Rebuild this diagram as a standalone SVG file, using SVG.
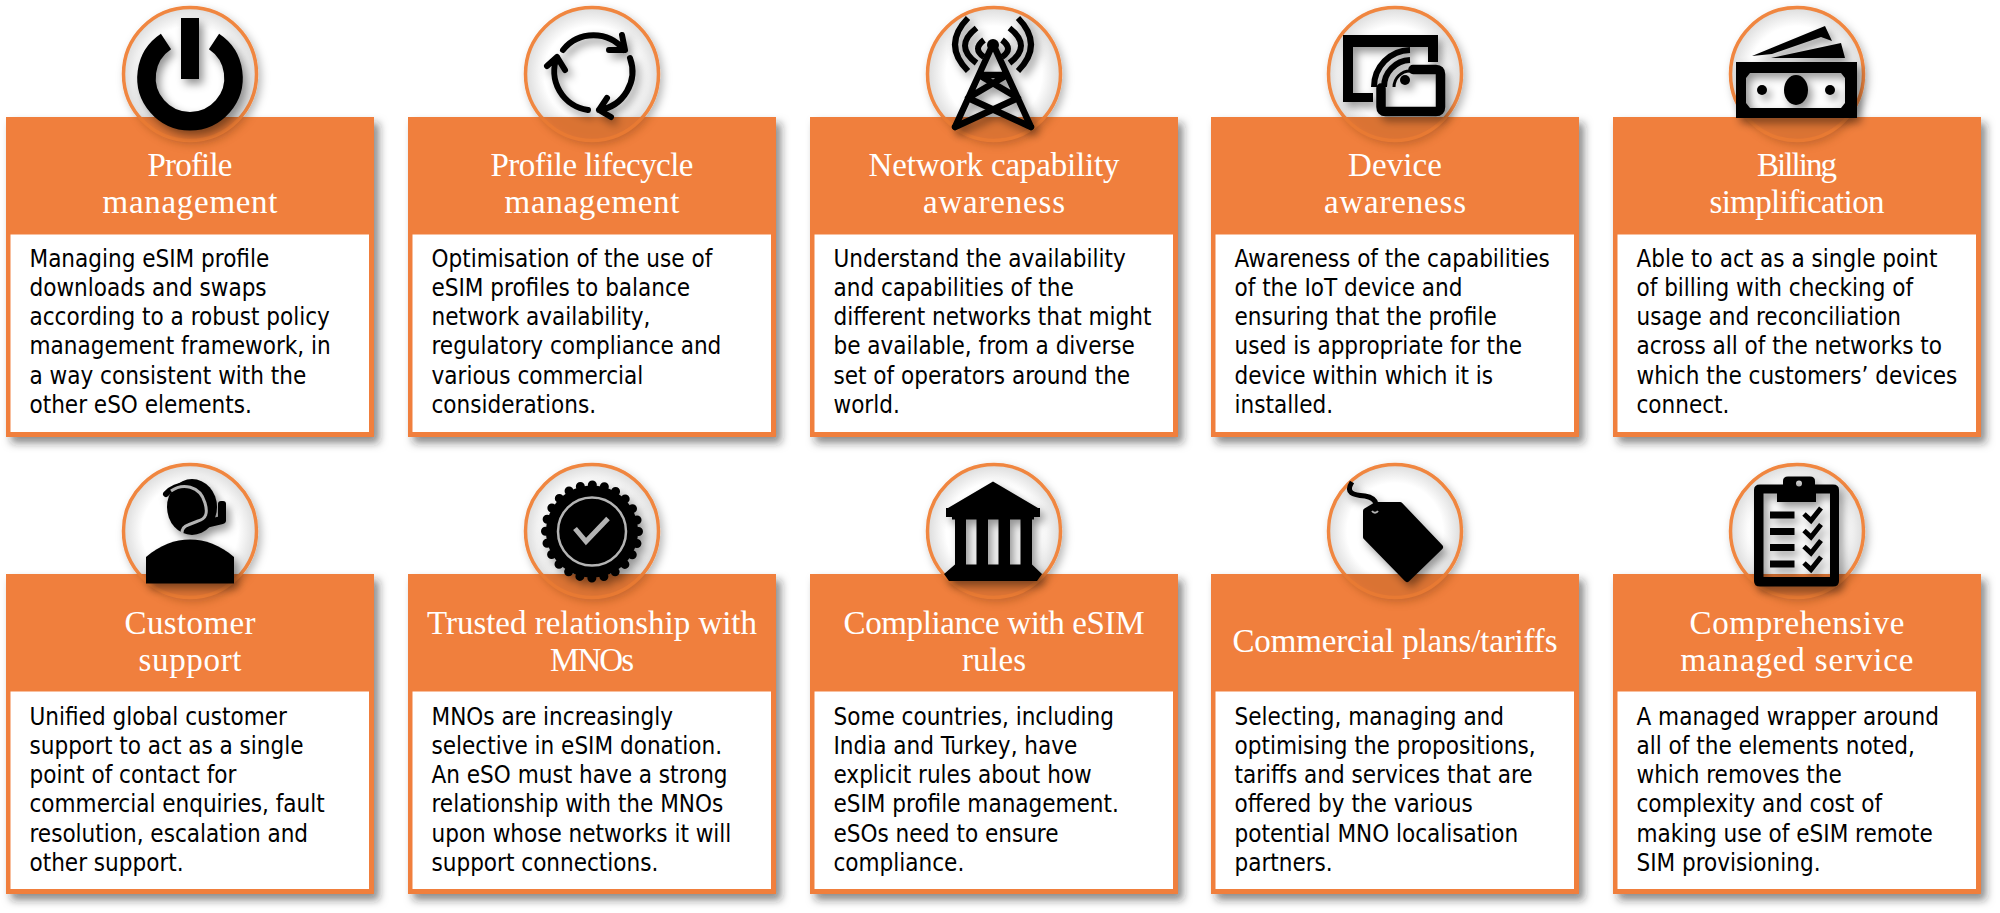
<svg xmlns="http://www.w3.org/2000/svg" width="2000" height="913" viewBox="0 0 2000 913">
<style>
.panel{fill:#F07F3C}
.body{fill:#fff}
.h{font-family:"Liberation Serif","DejaVu Serif",serif;font-size:33px;fill:#fff;text-anchor:middle}
.t{font-family:"DejaVu Sans","Liberation Sans",sans-serif;font-stretch:condensed;font-size:24px;fill:#000}
.ic{fill:#000}
.ln{fill:none;stroke:#000;stroke-linecap:round;stroke-linejoin:round}
.gl{fill:none;stroke:#b4b4b4}
</style>
<defs>
<radialGradient id="disc"><stop offset=".72" stop-color="#fff"/><stop offset="1" stop-color="#dcdcdc"/></radialGradient>
<filter id="discShadow" x="-30%" y="-30%" width="160%" height="160%"><feDropShadow dx="3" dy="4" stdDeviation="4" flood-color="#000" flood-opacity=".28"/></filter>
<filter id="panelShadow" x="-5%" y="-5%" width="112%" height="112%"><feDropShadow dx="5" dy="6" stdDeviation="4" flood-color="#222" flood-opacity=".52"/></filter>
<filter id="iconShadow" x="-30%" y="-30%" width="160%" height="160%"><feDropShadow dx="4" dy="5" stdDeviation="4" flood-color="#000" flood-opacity=".42"/></filter>
<filter id="blur" x="-30%" y="-30%" width="160%" height="160%"><feGaussianBlur stdDeviation="4"/></filter>
<clipPath id="panelClip"><rect x="0" y="0" width="368" height="117"/></clipPath>
<g id="back">
<circle cx="184" cy="-43" r="66.500" fill="url(#disc)" stroke="#F0863F" stroke-width="3.500" filter="url(#discShadow)"/>
<rect class="panel" width="368" height="320" filter="url(#panelShadow)"/>
<rect class="body" x="4.500" y="117.500" width="358.500" height="197.500"/>
<g clip-path="url(#panelClip)">
<circle cx="187" cy="-39" r="67" fill="#7a3a10" opacity=".36" filter="url(#blur)"/>
<circle cx="184" cy="-43" r="66.500" fill="#F07F3C" fill-opacity=".5" stroke="#E87A33" stroke-width="3.500"/>
</g>
</g>
</defs>

<g id="profile-management" transform="translate(6,117)">
<use href="#back"/>
<g transform="translate(184,-43)" filter="url(#iconShadow)">
<rect class="ic" x="-9" y="-56" width="18" height="61"/>
<path d="M-24,-32.500A43.500 43.500 0 1 0 24,-32.500" fill="none" stroke="#000" stroke-width="18.500"/>
</g>
<text class="h" x="184" y="58.500" textLength="85">Profile</text><text class="h" x="184" y="95.500" textLength="175">management</text>
<text class="t" x="23.500" y="149.500">Managing eSIM profile</text><text class="t" x="23.500" y="178.800">downloads and swaps</text><text class="t" x="23.500" y="208.100">according to a robust policy</text><text class="t" x="23.500" y="237.400">management framework, in</text><text class="t" x="23.500" y="266.700">a way consistent with the</text><text class="t" x="23.500" y="296">other eSO elements.</text>
</g>

<g id="profile-lifecycle-management" transform="translate(408,117)">
<use href="#back"/>
<g transform="translate(184,-43)" filter="url(#iconShadow)">
<path class="ln" stroke-width="6" d="M-29,-24A39 39 0 0 1 32,-24M30,-39L33,-24L17,-24M38,-16A39 39 0 0 1 7,36M15,24L7,36L19,43M-4,36A39 39 0 0 1 -35,-17M-45,-8L-35,-17L-27,-4"/>
</g>
<text class="h" x="184" y="58.500" textLength="203">Profile lifecycle</text><text class="h" x="184" y="95.500" textLength="175">management</text>
<text class="t" x="23.500" y="149.500">Optimisation of the use of</text><text class="t" x="23.500" y="178.800">eSIM profiles to balance</text><text class="t" x="23.500" y="208.100">network availability,</text><text class="t" x="23.500" y="237.400">regulatory compliance and</text><text class="t" x="23.500" y="266.700">various commercial</text><text class="t" x="23.500" y="296">considerations.</text>
</g>

<g id="network-capability-awareness" transform="translate(810,117)">
<use href="#back"/>
<g transform="translate(183,-43)" filter="url(#iconShadow)">
<circle class="ic" cx="0" cy="-29" r="6"/>
<path class="ln" stroke-width="6.500" d="M0,-30L-38,53M0,-30L38,53M-14,1H14M-14,1L25,24M14,1L-25,24M-25,24L38,53M25,24L-38,53"/>
<path d="M-25,-56Q-51,-29.500 -25,-3M25,-56Q51,-29.500 25,-3M-16.500,-46Q-39.500,-28 -16.500,-11M16.500,-46Q39.500,-28 16.500,-11M-9,-34Q-21,-25 -9,-17M9,-34Q21,-25 9,-17" fill="none" stroke="#000" stroke-width="6"/>
</g>
<text class="h" x="184" y="58.500" textLength="251">Network capability</text><text class="h" x="184" y="95.500" textLength="142">awareness</text>
<text class="t" x="23.500" y="149.500">Understand the availability</text><text class="t" x="23.500" y="178.800">and capabilities of the</text><text class="t" x="23.500" y="208.100">different networks that might</text><text class="t" x="23.500" y="237.400">be available, from a diverse</text><text class="t" x="23.500" y="266.700">set of operators around the</text><text class="t" x="23.500" y="296">world.</text>
</g>

<g id="device-awareness" transform="translate(1211,117)">
<use href="#back"/>
<g transform="translate(184,-43)" filter="url(#iconShadow)">
<path class="ic" d="M-52,-39H43V-12H33V-27H-42V19H-22V28H-52Z"/>
<path class="ln" stroke-width="9.500" stroke-linecap="butt" d="M18,-4.500H41Q45.500,-4.500 45.500,0V33Q45.500,37.500 41,37.500H-9.500Q-14,37.500 -14,33V14"/>
<path d="M15,-24A37 37 0 0 0 -21,13M15,-14A27 27 0 0 0 -11,13" fill="none" stroke="#000" stroke-width="6"/>
<path d="M15,-3A16 16 0 0 0 -1,13" fill="none" stroke="#000" stroke-width="3"/>
<circle class="ic" cx="10" cy="6" r="5"/>
</g>
<text class="h" x="184" y="58.500" textLength="94">Device</text><text class="h" x="184" y="95.500" textLength="142">awareness</text>
<text class="t" x="23.500" y="149.500">Awareness of the capabilities</text><text class="t" x="23.500" y="178.800">of the IoT device and</text><text class="t" x="23.500" y="208.100">ensuring that the profile</text><text class="t" x="23.500" y="237.400">used is appropriate for the</text><text class="t" x="23.500" y="266.700">device within which it is</text><text class="t" x="23.500" y="296">installed.</text>
</g>

<g id="billing-simplification" transform="translate(1613,117)">
<use href="#back"/>
<g transform="translate(184,-43)" filter="url(#iconShadow)">
<path class="ic" d="M-45,-18L28,-48L35,-33L24,-37L-25,-20ZM-26,-16L44,-31L48,-16H8Z"/>
<path class="ic" fill-rule="evenodd" d="M-61,-12H60V44H-61ZM-47,-1L-51,4V29L-47,34H44L48,29V4L44,-1Z"/>
<ellipse class="ic" cx="-1" cy="16" rx="12" ry="15"/>
<circle class="ic" cx="-35" cy="16" r="5"/><circle class="ic" cx="33" cy="16" r="5"/>
</g>
<text class="h" x="184" y="58.500" textLength="80">Billing</text><text class="h" x="184" y="95.500" textLength="175">simplification</text>
<text class="t" x="23.500" y="149.500">Able to act as a single point</text><text class="t" x="23.500" y="178.800">of billing with checking of</text><text class="t" x="23.500" y="208.100">usage and reconciliation</text><text class="t" x="23.500" y="237.400">across all of the networks to</text><text class="t" x="23.500" y="266.700">which the customers’ devices</text><text class="t" x="23.500" y="296">connect.</text>
</g>

<g id="customer-support" transform="translate(6,574)">
<use href="#back"/>
<g transform="translate(184,-43)" filter="url(#iconShadow)">
<ellipse class="ic" cx="2" cy="-24" rx="25" ry="28"/>
<path class="ic" d="M-44,52.500V26C-30,14 -15,8.500 0,8.500C15,8.500 30,14 44,26V52.500Z"/>
<path class="ln" stroke-width="6" d="M-24,-37C-14,-48 8,-50 17,-35"/>
<rect class="ic" x="28" y="-30" width="8" height="21" rx="3"/>
<path class="ln" stroke-width="8" d="M-4,-2.500L32,-11"/>
<path class="gl" stroke-width="3" d="M-19,-40C-8,-48 10,-46 15,-28C18,-18 16,-12 8,-10L-2,-6Q-8,-4 -8,2"/>
</g>
<text class="h" x="184" y="59.500" textLength="131">Customer</text><text class="h" x="184" y="96.500" textLength="103">support</text>
<text class="t" x="23.500" y="150.500">Unified global customer</text><text class="t" x="23.500" y="179.800">support to act as a single</text><text class="t" x="23.500" y="209.100">point of contact for</text><text class="t" x="23.500" y="238.400">commercial enquiries, fault</text><text class="t" x="23.500" y="267.700">resolution, escalation and</text><text class="t" x="23.500" y="297">other support.</text>
</g>

<g id="trusted-relationship" transform="translate(408,574)">
<use href="#back"/>
<g transform="translate(184,-43)" filter="url(#iconShadow)">
<circle class="ic" cx="0" cy="0.500" r="46"/>
<circle cx="0" cy="0.500" r="46.500" fill="none" stroke="#000" stroke-width="9" stroke-linecap="round" stroke-dasharray="0 12.174"/>
<circle class="gl" cx="0" cy="0.500" r="34" stroke-width="2.500"/>
<path class="gl" stroke-width="5" d="M-17,-2.500L-6,10.500L16,-12.500"/>
</g>
<text class="h" x="184" y="59.500" textLength="330">Trusted relationship with</text><text class="h" x="184" y="96.500" textLength="84">MNOs</text>
<text class="t" x="23.500" y="150.500">MNOs are increasingly</text><text class="t" x="23.500" y="179.800">selective in eSIM donation.</text><text class="t" x="23.500" y="209.100">An eSO must have a strong</text><text class="t" x="23.500" y="238.400">relationship with the MNOs</text><text class="t" x="23.500" y="267.700">upon whose networks it will</text><text class="t" x="23.500" y="297">support connections.</text>
</g>

<g id="compliance-esim-rules" transform="translate(810,574)">
<use href="#back"/>
<g transform="translate(183,-43)" filter="url(#iconShadow)">
<path class="ic" fill-rule="evenodd" d="M0,-49.500L45,-23H47V-14H41V-11.500H39V33.500L49,43L44,50H-44L-49,43L-38,33.500V-11.500H-41V-14H-47V-23H-45ZM-27,-11.500V33.500H-16.500V-11.500ZM-5,-11.500V33.500H5.500V-11.500ZM17,-11.500V33.500H27.500V-11.500Z"/>
</g>
<text class="h" x="184" y="59.500" textLength="301">Compliance with eSIM</text><text class="h" x="184" y="96.500" textLength="64">rules</text>
<text class="t" x="23.500" y="150.500">Some countries, including</text><text class="t" x="23.500" y="179.800">India and Turkey, have</text><text class="t" x="23.500" y="209.100">explicit rules about how</text><text class="t" x="23.500" y="238.400">eSIM profile management.</text><text class="t" x="23.500" y="267.700">eSOs need to ensure</text><text class="t" x="23.500" y="297">compliance.</text>
</g>

<g id="commercial-plans" transform="translate(1211,574)">
<use href="#back"/>
<g transform="translate(184,-43)" filter="url(#iconShadow)">
<path class="ic" stroke="#000" stroke-width="6" stroke-linejoin="round" d="M-19,-26H5L45,16L12,48L-29,6V-20Z"/>
<path fill="none" stroke="#000" stroke-width="5" d="M-43,-49C-50,-38 -42,-36 -30,-35C-24,-34 -20,-32 -19,-27"/>
<path class="gl" stroke-width="2" d="M-23,-20A4 5 0 0 0 -17,-20"/>
</g>
<text class="h" x="184" y="77.500" textLength="325">Commercial plans/tariffs</text>
<text class="t" x="23.500" y="150.500">Selecting, managing and</text><text class="t" x="23.500" y="179.800">optimising the propositions,</text><text class="t" x="23.500" y="209.100">tariffs and services that are</text><text class="t" x="23.500" y="238.400">offered by the various</text><text class="t" x="23.500" y="267.700">potential MNO localisation</text><text class="t" x="23.500" y="297">partners.</text>
</g>

<g id="comprehensive-managed-service" transform="translate(1613,574)">
<use href="#back"/>
<g transform="translate(184,-43)" filter="url(#iconShadow)">
<path class="ic" fill-rule="evenodd" d="M-37,-46.500H-14V-50Q-14,-54.500 -9,-54.500H13Q18,-54.500 18,-50V-46.500H36Q42,-46.500 42,-41V50Q42,55.500 36,55.500H-37Q-43,55.500 -43,50V-41Q-43,-46.500 -37,-46.500ZM-33.500,-37.500V46H33V-37.500H19V-29H-20V-37.500ZM-1,-47.500A3 3 0 0 0 5,-47.500A3 3 0 0 0 -1,-47.500Z"/>
<rect class="ic" x="-27" y="-19.500" width="24.500" height="7"/><rect class="ic" x="-27" y="-3" width="24.500" height="7"/><rect class="ic" x="-27" y="13" width="24.500" height="7"/><rect class="ic" x="-27" y="29.500" width="24.500" height="7"/>
<path fill="none" stroke="#000" stroke-width="5" d="M7,-17L14,-10.500L24,-23M7,-0.500L14,6L24,-6.500M7,15.500L14,22L24,9.500M7,32L14,38.500L24,26"/>
</g>
<text class="h" x="184" y="59.500" textLength="215">Comprehensive</text><text class="h" x="184" y="96.500" textLength="233">managed service</text>
<text class="t" x="23.500" y="150.500">A managed wrapper around</text><text class="t" x="23.500" y="179.800">all of the elements noted,</text><text class="t" x="23.500" y="209.100">which removes the</text><text class="t" x="23.500" y="238.400">complexity and cost of</text><text class="t" x="23.500" y="267.700">making use of eSIM remote</text><text class="t" x="23.500" y="297">SIM provisioning.</text>
</g>
</svg>
